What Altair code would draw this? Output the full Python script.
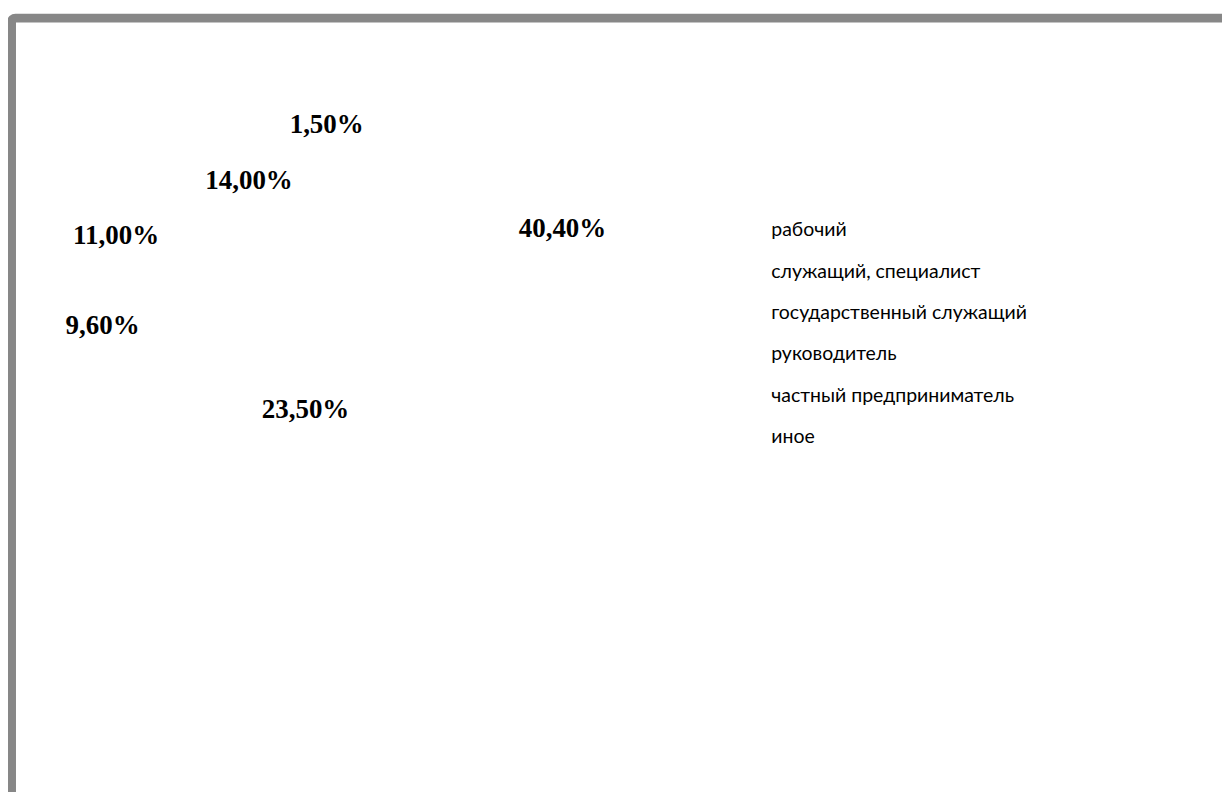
import altair as alt
import pandas as pd

# ---- data ----
categories = [
    "рабочий",
    "служащий, специалист",
    "государственный служащий",
    "руководитель",
    "частный предприниматель",
    "иное",
]
values = [40.4, 23.5, 9.6, 11.0, 14.0, 1.5]

# ---- layout (label distance from pie centre, px, before 3-D tilt) ----
label_radius = [235, 245, 256, 230, 176, 250]

labels = [f"{v:.2f}".replace(".", ",") + "%" for v in values]
df = pd.DataFrame({
    "category": categories,
    "value": values,
    "label": labels,
    "idx": list(range(len(categories))),
    "lr": label_radius,
})

W, H = 1216, 784
CX, CY = 331, 261   # pie centre in plot coordinates
TILT = 0.58         # vertical squash of the tilted (3-D) pie
LFS = 19.5

base = alt.Chart(df)

pie = base.mark_arc(outerRadius=190, stroke=None).encode(
    theta=alt.Theta("value:Q", stack=True),
    order=alt.Order("idx:Q"),
    color=alt.Color(
        "category:N",
        scale=alt.Scale(domain=categories, range=["#ffffff"] * 6),
        legend=alt.Legend(
            title=None,
            orient="none",
            legendX=737,
            legendY=222 - LFS / 2,
            labelFont="Lato",
            labelFontSize=LFS,
            labelColor="#000000",
            labelLimit=400,
            labelOffset=8,
            symbolType="square",
            symbolSize=100,
            symbolStrokeWidth=0,
            symbolOpacity=0,
            rowPadding=39.9 - LFS,
        ),
    ),
    x=alt.value(CX),
    y=alt.value(CY),
)

text = base.transform_joinaggregate(
    total="sum(value)"
).transform_window(
    cum="sum(value)",
    sort=[alt.SortField("idx")],
    frame=[None, 0],
).transform_calculate(
    ang="2 * PI * (datum.cum - datum.value / 2) / datum.total"
).transform_calculate(
    px=f"{CX} + datum.lr * sin(datum.ang)",
    py=f"{CY} - {TILT} * datum.lr * cos(datum.ang)",
).mark_text(
    font="Liberation Serif",
    fontWeight="bold",
    fontSize=27,
    color="#000000",
    align="center",
    baseline="middle",
).encode(
    x=alt.X("px:Q", scale=None, axis=None),
    y=alt.Y("py:Q", scale=None, axis=None),
    text="label:N",
)

border_df = pd.DataFrame({"k": [0]})
border = alt.Chart(border_df).mark_rect(
    fill=None,
    fillOpacity=0,
    stroke="#878787",
    strokeWidth=9,
    cornerRadius=4,
).encode(
    x=alt.value(3.5),
    y=alt.value(9.5),
    x2=alt.value(W + 200),
    y2=alt.value(H + 200),
)

chart = alt.layer(border, pie, text).properties(
    width=W,
    height=H,
    padding=0,
    autosize=alt.AutoSizeParams(type="none"),
    background="#ffffff",
).configure_view(stroke=None)

chart.save("out.html", embed_options={"renderer": "svg", "actions": False})
